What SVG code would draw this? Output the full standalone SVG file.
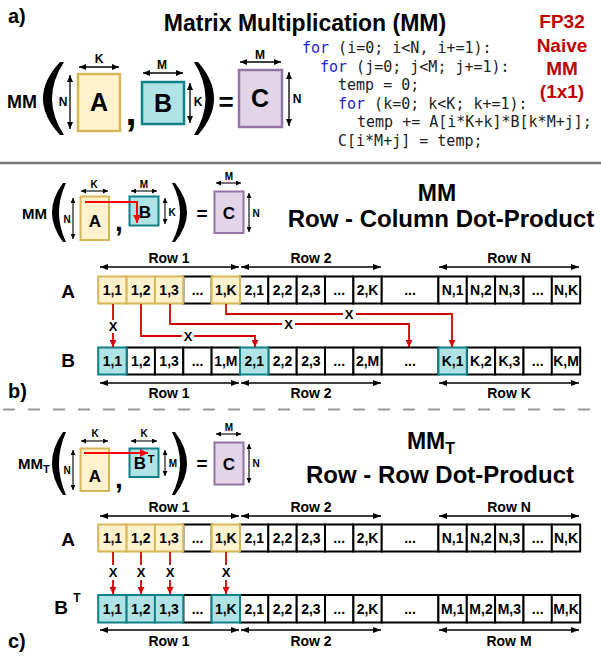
<svg xmlns="http://www.w3.org/2000/svg" width="601" height="660" viewBox="0 0 601 660">
<style>
.t{font-family:"Liberation Sans",Arial,sans-serif;font-weight:bold;fill:#000}
.m{text-anchor:middle}
.cell{font-family:"Liberation Sans",Arial,sans-serif;font-weight:bold;font-size:14px;text-anchor:middle;fill:#000}
.code{font-family:"DejaVu Sans Mono","Liberation Mono",monospace;font-size:15px;fill:#222}
.kw{fill:#2222cc}
.red{fill:#c00000}
.yl{fill:#fff2cc;stroke:#d6b656}
.tl{fill:#b0e3e6;stroke:#0e8088}
.pl{fill:#e1d5e7;stroke:#9673a6}
.wc{fill:#fff;stroke:#000;stroke-width:2}
.cy{fill:#fff2cc;stroke:#d6b656;stroke-width:2}
.ct{fill:#b0e3e6;stroke:#0e8088;stroke-width:2}
.dim{stroke:#000;stroke-width:1.3;fill:none;marker-start:url(#ah);marker-end:url(#ah)}
.dims{stroke:#000;stroke-width:1.1;fill:none;marker-start:url(#ahs);marker-end:url(#ahs)}
.row{stroke:#000;stroke-width:1.5;fill:none;marker-start:url(#ahr);marker-end:url(#ahr)}
.rc{stroke:#d40000;stroke-width:1.8;fill:none;marker-end:url(#ahred)}
.rs{stroke:#ff0000;stroke-width:2;fill:none;marker-end:url(#ahred2)}
.par{fill:#000}
</style>
<defs>
<marker id="ah" markerUnits="userSpaceOnUse" markerWidth="7" markerHeight="6" refX="7" refY="3" orient="auto-start-reverse"><path d="M0,0 L7,3 L0,6 Z" fill="#000"/></marker>
<marker id="ahs" markerUnits="userSpaceOnUse" markerWidth="5" markerHeight="5" refX="5" refY="2.5" orient="auto-start-reverse"><path d="M0,0 L5,2.5 L0,5 Z" fill="#000"/></marker>
<marker id="ahr" markerUnits="userSpaceOnUse" markerWidth="8" markerHeight="6" refX="8" refY="3" orient="auto-start-reverse"><path d="M0,0 L8,3 L0,6 Z" fill="#000"/></marker>
<marker id="ahred" markerUnits="userSpaceOnUse" markerWidth="7" markerHeight="7" refX="7" refY="3.5" orient="auto"><path d="M0,0 L7,3.5 L0,7 Z" fill="#d40000"/></marker>
<marker id="ahred2" markerUnits="userSpaceOnUse" markerWidth="8" markerHeight="8" refX="8" refY="4" orient="auto"><path d="M0,0 L8,4 L0,8 Z" fill="#ff0000"/></marker>
</defs>
<rect width="601" height="660" fill="#fff"/>

<!-- Section a -->
<g id="sec-a">
<text class="t" x="8" y="23" font-size="20">a)</text>
<text class="t m" x="305" y="31" font-size="23">Matrix Multiplication (MM)</text>
<g id="code">
<text class="code" x="302" y="53"><tspan class="kw">for</tspan> (i=0; i&lt;N, i+=1):</text>
<text class="code" x="320" y="71.5"><tspan class="kw">for</tspan> (j=0; j&lt;M; j+=1):</text>
<text class="code" x="338" y="90">temp = 0;</text>
<text class="code" x="338" y="108.5"><tspan class="kw">for</tspan> (k=0; k&lt;K; k+=1):</text>
<text class="code" x="357" y="127">temp += A[i*K+k]*B[k*M+j];</text>
<text class="code" x="338" y="145.5">C[i*M+j] = temp;</text>
</g>
<g id="fp32">
<text class="t m red" x="562" y="28" font-size="19">FP32</text>
<text class="t m red" x="562" y="52" font-size="19">Naive</text>
<text class="t m red" x="562" y="75" font-size="19">MM</text>
<text class="t m red" x="562" y="98" font-size="19">(1x1)</text>
</g>
<text class="t" x="7" y="108" font-size="18">MM</text>
<path class="par" d="M60,62 Q26,98.5 60,135 L64,135 Q40,98.5 64,62 Z"/>
<path class="par" d="M198,62 Q230,98.5 198,135 L194,135 Q217,98.5 194,62 Z"/>
<text class="t m" x="131" y="125" font-size="40">,</text>
<text class="t m" x="226" y="111" font-size="26">=</text>
<g id="mA">
<rect class="yl" x="78" y="74" width="42" height="57" stroke-width="2.5"/>
<text class="t m" x="99" y="111" font-size="25">A</text>
<line class="dim" x1="79" y1="67" x2="119" y2="67"/>
<text class="t m" x="99" y="63" font-size="12">K</text>
<line class="dim" x1="70" y1="75" x2="70" y2="129"/>
<text class="t m" x="63" y="106" font-size="12">N</text>
</g>
<g id="mB">
<rect class="tl" x="142" y="82" width="42" height="42" stroke-width="2.5"/>
<text class="t m" x="163" y="112" font-size="25">B</text>
<line class="dim" x1="143" y1="73" x2="183" y2="73"/>
<text class="t m" x="162" y="69" font-size="12">M</text>
<line class="dim" x1="190" y1="83" x2="190" y2="123"/>
<text class="t m" x="198" y="106" font-size="12">K</text>
</g>
<g id="mC">
<rect class="pl" x="239" y="70" width="43" height="57" stroke-width="2.5"/>
<text class="t m" x="260" y="107" font-size="25">C</text>
<line class="dim" x1="240" y1="62" x2="281" y2="62"/>
<text class="t m" x="260" y="59" font-size="12">M</text>
<line class="dim" x1="289" y1="72" x2="289" y2="126"/>
<text class="t m" x="297" y="103" font-size="12">N</text>
</g>
</g>

<line x1="0" y1="163" x2="601" y2="163" stroke="#777" stroke-width="2.5"/>

<!-- Section b -->
<g id="sec-b-diagram">
<text class="t" x="22" y="218.5" font-size="15">MM</text>
<path class="par" d="M63,183 Q41,212.5 63,242 L66,242 Q52,212.5 66,183 Z"/>
<path class="par" d="M175,183 Q199,212.5 175,242 L172,242 Q188,212.5 172,183 Z"/>
<text class="t m" x="119" y="231" font-size="28">,</text>
<text class="t m" x="202" y="220" font-size="19">=</text>
<g id="bA">
<rect class="yl" x="80.5" y="196.5" width="28.5" height="43.5" stroke-width="2"/>
<text class="t m" x="95" y="227" font-size="17">A</text>
<line class="dims" x1="81" y1="191" x2="108" y2="191"/>
<text class="t m" x="94" y="188" font-size="10">K</text>
<line class="dims" x1="73" y1="198" x2="73" y2="239"/>
<text class="t m" x="67" y="223" font-size="10">N</text>
</g>
<g id="bB">
<rect class="tl" x="129.5" y="196.5" width="29" height="29" stroke-width="2"/>
<text class="t m" x="145" y="218" font-size="17">B</text>
<line class="dims" x1="131" y1="191" x2="157" y2="191"/>
<text class="t m" x="144" y="188" font-size="10">M</text>
<line class="dims" x1="165" y1="198" x2="165" y2="224"/>
<text class="t m" x="172" y="216" font-size="10">K</text>
</g>
<g id="bC">
<rect class="pl" x="214.5" y="191.5" width="29" height="41.5" stroke-width="2"/>
<text class="t m" x="229" y="219" font-size="17">C</text>
<line class="dims" x1="216" y1="183" x2="241" y2="183"/>
<text class="t m" x="229" y="180" font-size="10">M</text>
<line class="dims" x1="249" y1="193" x2="249" y2="232"/>
<text class="t m" x="256" y="217" font-size="10">N</text>
</g>
<path class="rs" d="M85,202 H137 V223"/>
</g>
<g id="title-b">
<text class="t m" x="437" y="201" font-size="23">MM</text>
<text class="t m" x="441" y="227" font-size="24">Row - Column Dot-Product</text>
</g>

<g id="b-labels">
<text class="t m" x="68" y="298" font-size="19">A</text>
<text class="t m" x="68" y="367" font-size="19">B</text>
<text class="t" x="8" y="398" font-size="20">b)</text>
</g>

<g id="b-rowlabels">
<line class="row" x1="100" y1="267" x2="239" y2="267"/>
<line class="row" x1="241" y1="267" x2="381" y2="267"/>
<line class="row" x1="439" y1="267" x2="579" y2="267"/>
<text class="t m" x="169" y="263" font-size="14">Row 1</text>
<text class="t m" x="311" y="263" font-size="14">Row 2</text>
<text class="t m" x="509" y="263" font-size="14">Row N</text>
<line class="row" x1="100" y1="383" x2="239" y2="383"/>
<line class="row" x1="241" y1="383" x2="381" y2="383"/>
<line class="row" x1="439" y1="383" x2="579" y2="383"/>
<text class="t m" x="169" y="398" font-size="14">Row 1</text>
<text class="t m" x="311" y="398" font-size="14">Row 2</text>
<text class="t m" x="509" y="398" font-size="14">Row K</text>
</g>

<g id="b-rowA">
<rect class="wc" x="183.3" y="276.5" width="28.4" height="27"/>
<rect class="wc" x="240" y="276.5" width="28.4" height="27"/>
<rect class="wc" x="268.3" y="276.5" width="28.4" height="27"/>
<rect class="wc" x="296.7" y="276.5" width="28.4" height="27"/>
<rect class="wc" x="325" y="276.5" width="28.4" height="27"/>
<rect class="wc" x="353.4" y="276.5" width="28.4" height="27"/>
<rect class="wc" x="381.7" y="276.5" width="56.7" height="27"/>
<rect class="wc" x="438.4" y="276.5" width="28.4" height="27"/>
<rect class="wc" x="466.8" y="276.5" width="28.4" height="27"/>
<rect class="wc" x="495.1" y="276.5" width="28.4" height="27"/>
<rect class="wc" x="523.5" y="276.5" width="28.4" height="27"/>
<rect class="wc" x="551.8" y="276.5" width="28.4" height="27"/>
<rect class="cy" x="98.2" y="276.5" width="28.4" height="27"/>
<rect class="cy" x="126.6" y="276.5" width="28.4" height="27"/>
<rect class="cy" x="154.9" y="276.5" width="28.4" height="27"/>
<rect class="cy" x="211.6" y="276.5" width="28.4" height="27"/>
<text class="cell" x="112.4" y="295">1,1</text>
<text class="cell" x="140.8" y="295">1,2</text>
<text class="cell" x="169.1" y="295">1,3</text>
<text class="cell" x="197.5" y="295">...</text>
<text class="cell" x="225.8" y="295">1,K</text>
<text class="cell" x="254.2" y="295">2,1</text>
<text class="cell" x="282.5" y="295">2,2</text>
<text class="cell" x="310.9" y="295">2,3</text>
<text class="cell" x="339.2" y="295">...</text>
<text class="cell" x="367.6" y="295">2,K</text>
<text class="cell" x="410" y="295">...</text>
<text class="cell" x="452.6" y="295">N,1</text>
<text class="cell" x="481" y="295">N,2</text>
<text class="cell" x="509.3" y="295">N,3</text>
<text class="cell" x="537.7" y="295">...</text>
<text class="cell" x="566" y="295">N,K</text>
</g>

<g id="b-rowB">
<rect class="wc" x="126.6" y="347.5" width="28.4" height="27"/>
<rect class="wc" x="154.9" y="347.5" width="28.4" height="27"/>
<rect class="wc" x="183.3" y="347.5" width="28.4" height="27"/>
<rect class="wc" x="211.6" y="347.5" width="28.4" height="27"/>
<rect class="wc" x="268.3" y="347.5" width="28.4" height="27"/>
<rect class="wc" x="296.7" y="347.5" width="28.4" height="27"/>
<rect class="wc" x="325" y="347.5" width="28.4" height="27"/>
<rect class="wc" x="353.4" y="347.5" width="28.4" height="27"/>
<rect class="wc" x="381.7" y="347.5" width="56.7" height="27"/>
<rect class="wc" x="466.8" y="347.5" width="28.4" height="27"/>
<rect class="wc" x="495.1" y="347.5" width="28.4" height="27"/>
<rect class="wc" x="523.5" y="347.5" width="28.4" height="27"/>
<rect class="wc" x="551.8" y="347.5" width="28.4" height="27"/>
<rect class="ct" x="98.2" y="347.5" width="28.4" height="27"/>
<rect class="ct" x="240" y="347.5" width="28.4" height="27"/>
<rect class="ct" x="438.4" y="347.5" width="28.4" height="27"/>
<text class="cell" x="112.4" y="366">1,1</text>
<text class="cell" x="140.8" y="366">1,2</text>
<text class="cell" x="169.1" y="366">1,3</text>
<text class="cell" x="197.5" y="366">...</text>
<text class="cell" x="225.8" y="366">1,M</text>
<text class="cell" x="254.2" y="366">2,1</text>
<text class="cell" x="282.5" y="366">2,2</text>
<text class="cell" x="310.9" y="366">2,3</text>
<text class="cell" x="339.2" y="366">...</text>
<text class="cell" x="367.6" y="366">2,M</text>
<text class="cell" x="410" y="366">...</text>
<text class="cell" x="452.6" y="366">K,1</text>
<text class="cell" x="481" y="366">K,2</text>
<text class="cell" x="509.3" y="366">K,3</text>
<text class="cell" x="537.7" y="366">...</text>
<text class="cell" x="566" y="366">K,M</text>
</g>

<g id="b-connectors">
<path class="rc" d="M113,304 V347"/>
<path class="rc" d="M141,304 V336 H255 V347"/>
<path class="rc" d="M170,304 V324 H409 V347"/>
<path class="rc" d="M226,304 V314 H452 V347"/>
<rect x="107" y="320" width="12" height="13" fill="#fff"/>
<rect x="182" y="331" width="12" height="10" fill="#fff"/>
<rect x="282" y="319" width="13" height="10" fill="#fff"/>
<rect x="343" y="309" width="13" height="10" fill="#fff"/>
<text class="t m" x="113" y="331" font-size="13">X</text>
<text class="t m" x="188" y="341" font-size="13">X</text>
<text class="t m" x="288.5" y="329" font-size="13">X</text>
<text class="t m" x="349" y="319" font-size="13">X</text>
</g>

<line x1="3" y1="409.5" x2="601" y2="409.5" stroke="#999" stroke-width="2" stroke-dasharray="12 13"/>

<!-- Section c -->
<g id="sec-c-diagram">
<text class="t" x="18" y="468.5" font-size="15">MM<tspan font-size="11" dy="4">T</tspan></text>
<path class="par" d="M63,432 Q41,463.5 63,495 L66,495 Q52,463.5 66,432 Z"/>
<path class="par" d="M175,432 Q199,463.5 175,495 L172,495 Q188,463.5 172,432 Z"/>
<text class="t m" x="119" y="488" font-size="28">,</text>
<text class="t m" x="202" y="470" font-size="19">=</text>
<g id="cA">
<rect class="yl" x="80.5" y="448.5" width="28.5" height="42.5" stroke-width="2"/>
<text class="t m" x="95" y="482" font-size="17">A</text>
<line class="dims" x1="81" y1="441" x2="108" y2="441"/>
<text class="t m" x="95" y="437" font-size="10">K</text>
<line class="dims" x1="73" y1="450" x2="73" y2="490"/>
<text class="t m" x="67" y="474" font-size="10">N</text>
</g>
<g id="cB">
<rect class="tl" x="129.5" y="448.5" width="29" height="28.5" stroke-width="2"/>
<text class="t m" x="140" y="469" font-size="17">B</text>
<text class="t m" x="151" y="463" font-size="11">T</text>
<line class="dims" x1="131" y1="441" x2="157" y2="441"/>
<text class="t m" x="144" y="437" font-size="10">K</text>
<line class="dims" x1="165" y1="450" x2="165" y2="476"/>
<text class="t m" x="173" y="467" font-size="10">M</text>
</g>
<g id="cC">
<rect class="pl" x="214.5" y="442.5" width="29" height="42" stroke-width="2"/>
<text class="t m" x="229" y="469.5" font-size="17">C</text>
<line class="dims" x1="216" y1="434" x2="241" y2="434"/>
<text class="t m" x="229" y="431" font-size="10">M</text>
<line class="dims" x1="249" y1="444" x2="249" y2="483"/>
<text class="t m" x="256" y="467" font-size="10">N</text>
</g>
<path class="rs" d="M84,453 H148"/>
</g>
<g id="title-c">
<text class="t m" x="431" y="449" font-size="23">MM<tspan font-size="16" dy="5">T</tspan></text>
<text class="t m" x="440" y="483" font-size="24">Row - Row Dot-Product</text>
</g>

<g id="c-labels">
<text class="t m" x="68" y="546" font-size="19">A</text>
<text class="t m" x="61" y="614" font-size="19">B</text>
<text class="t m" x="77" y="602" font-size="12">T</text>
<text class="t" x="8" y="648" font-size="20">c)</text>
</g>

<g id="c-rowlabels">
<line class="row" x1="100" y1="516" x2="239" y2="516"/>
<line class="row" x1="241" y1="516" x2="381" y2="516"/>
<line class="row" x1="439" y1="516" x2="579" y2="516"/>
<text class="t m" x="169" y="512" font-size="14">Row 1</text>
<text class="t m" x="311" y="512" font-size="14">Row 2</text>
<text class="t m" x="509" y="512" font-size="14">Row N</text>
<line class="row" x1="100" y1="630" x2="239" y2="630"/>
<line class="row" x1="241" y1="630" x2="381" y2="630"/>
<line class="row" x1="439" y1="630" x2="579" y2="630"/>
<text class="t m" x="169" y="646" font-size="14">Row 1</text>
<text class="t m" x="311" y="646" font-size="14">Row 2</text>
<text class="t m" x="509" y="646" font-size="14">Row M</text>
</g>

<g id="c-rowA">
<rect class="wc" x="183.3" y="524.5" width="28.4" height="27"/>
<rect class="wc" x="240" y="524.5" width="28.4" height="27"/>
<rect class="wc" x="268.3" y="524.5" width="28.4" height="27"/>
<rect class="wc" x="296.7" y="524.5" width="28.4" height="27"/>
<rect class="wc" x="325" y="524.5" width="28.4" height="27"/>
<rect class="wc" x="353.4" y="524.5" width="28.4" height="27"/>
<rect class="wc" x="381.7" y="524.5" width="56.7" height="27"/>
<rect class="wc" x="438.4" y="524.5" width="28.4" height="27"/>
<rect class="wc" x="466.8" y="524.5" width="28.4" height="27"/>
<rect class="wc" x="495.1" y="524.5" width="28.4" height="27"/>
<rect class="wc" x="523.5" y="524.5" width="28.4" height="27"/>
<rect class="wc" x="551.8" y="524.5" width="28.4" height="27"/>
<rect class="cy" x="98.2" y="524.5" width="28.4" height="27"/>
<rect class="cy" x="126.6" y="524.5" width="28.4" height="27"/>
<rect class="cy" x="154.9" y="524.5" width="28.4" height="27"/>
<rect class="cy" x="211.6" y="524.5" width="28.4" height="27"/>
<text class="cell" x="112.4" y="543">1,1</text>
<text class="cell" x="140.8" y="543">1,2</text>
<text class="cell" x="169.1" y="543">1,3</text>
<text class="cell" x="197.5" y="543">...</text>
<text class="cell" x="225.8" y="543">1,K</text>
<text class="cell" x="254.2" y="543">2,1</text>
<text class="cell" x="282.5" y="543">2,2</text>
<text class="cell" x="310.9" y="543">2,3</text>
<text class="cell" x="339.2" y="543">...</text>
<text class="cell" x="367.6" y="543">2,K</text>
<text class="cell" x="410" y="543">...</text>
<text class="cell" x="452.6" y="543">N,1</text>
<text class="cell" x="481" y="543">N,2</text>
<text class="cell" x="509.3" y="543">N,3</text>
<text class="cell" x="537.7" y="543">...</text>
<text class="cell" x="566" y="543">N,K</text>
</g>

<g id="c-rowB">
<rect class="wc" x="183.3" y="595" width="28.4" height="27.5"/>
<rect class="wc" x="240" y="595" width="28.4" height="27.5"/>
<rect class="wc" x="268.3" y="595" width="28.4" height="27.5"/>
<rect class="wc" x="296.7" y="595" width="28.4" height="27.5"/>
<rect class="wc" x="325" y="595" width="28.4" height="27.5"/>
<rect class="wc" x="353.4" y="595" width="28.4" height="27.5"/>
<rect class="wc" x="381.7" y="595" width="56.7" height="27.5"/>
<rect class="wc" x="438.4" y="595" width="28.4" height="27.5"/>
<rect class="wc" x="466.8" y="595" width="28.4" height="27.5"/>
<rect class="wc" x="495.1" y="595" width="28.4" height="27.5"/>
<rect class="wc" x="523.5" y="595" width="28.4" height="27.5"/>
<rect class="wc" x="551.8" y="595" width="28.4" height="27.5"/>
<rect class="ct" x="98.2" y="595" width="28.4" height="27.5"/>
<rect class="ct" x="126.6" y="595" width="28.4" height="27.5"/>
<rect class="ct" x="154.9" y="595" width="28.4" height="27.5"/>
<rect class="ct" x="211.6" y="595" width="28.4" height="27.5"/>
<text class="cell" x="112.4" y="614">1,1</text>
<text class="cell" x="140.8" y="614">1,2</text>
<text class="cell" x="169.1" y="614">1,3</text>
<text class="cell" x="197.5" y="614">...</text>
<text class="cell" x="225.8" y="614">1,K</text>
<text class="cell" x="254.2" y="614">2,1</text>
<text class="cell" x="282.5" y="614">2,2</text>
<text class="cell" x="310.9" y="614">2,3</text>
<text class="cell" x="339.2" y="614">...</text>
<text class="cell" x="367.6" y="614">2,K</text>
<text class="cell" x="410" y="614">...</text>
<text class="cell" x="452.6" y="614">M,1</text>
<text class="cell" x="481" y="614">M,2</text>
<text class="cell" x="509.3" y="614">M,3</text>
<text class="cell" x="537.7" y="614">...</text>
<text class="cell" x="566" y="614">M,K</text>
</g>

<g id="c-connectors">
<path class="rc" d="M113,552 V594"/>
<path class="rc" d="M141,552 V594"/>
<path class="rc" d="M170,552 V594"/>
<path class="rc" d="M226,552 V594"/>
<rect x="107" y="565" width="12" height="15" fill="#fff"/>
<rect x="135" y="565" width="12" height="15" fill="#fff"/>
<rect x="164" y="565" width="12" height="15" fill="#fff"/>
<rect x="220" y="565" width="12" height="15" fill="#fff"/>
<text class="t m" x="113" y="577" font-size="13">X</text>
<text class="t m" x="141" y="577" font-size="13">X</text>
<text class="t m" x="170" y="577" font-size="13">X</text>
<text class="t m" x="226" y="577" font-size="13">X</text>
</g>
</svg>
